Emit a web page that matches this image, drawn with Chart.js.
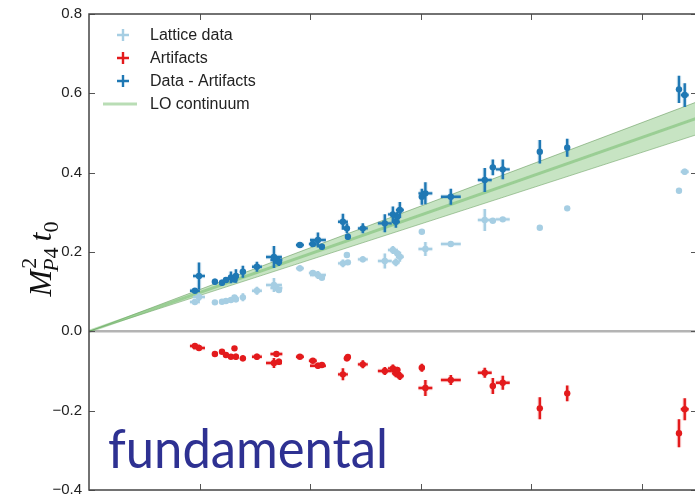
<!DOCTYPE html>
<html>
<head>
<meta charset="utf-8">
<script src="https://cdn.jsdelivr.net/npm/chart.js@4.4.0/dist/chart.umd.min.js"></script>
<style>
  html, body { margin: 0; padding: 0; background: #fff; overflow: hidden; }
  #wrap { width: 695px; height: 496px; overflow: hidden; position: relative; }
  canvas { display: block; }
</style>
</head>
<body>
<div id="wrap"><canvas id="chart" width="700" height="496"></canvas></div>
<script>
// ---- ensembles: x position and its uncertainty ----
const xVals = [0.0958, 0.0995, 0.1139, 0.1203, 0.1239, 0.1284, 0.1316, 0.1329, 0.1392, 0.1519,
               0.1673, 0.1695, 0.1718, 0.1908, 0.2025, 0.2071, 0.2107, 0.2297, 0.2333, 0.2342,
               0.2477, 0.2676, 0.2749, 0.2776, 0.2789, 0.2812, 0.3011, 0.3043, 0.3273, 0.3580,
               0.3653, 0.3743, 0.4078, 0.4326, 0.5337, 0.5389];
const xErr  = [0.0045, 0.0054, 0.0027, 0.0027, 0.0020, 0.0027, 0.0020, 0.0027, 0.0027, 0.0045,
               0.0072, 0.0054, 0.0027, 0.0036, 0.0036, 0.0072, 0.0027, 0.0045, 0.0027, 0.0020,
               0.0045, 0.0063, 0.0045, 0.0036, 0.0027, 0.0036, 0.0027, 0.0063, 0.0090, 0.0063,
               0.0027, 0.0063, 0.0020, 0.0020, 0.0020, 0.0036];

// ---- lattice data ----
const latticeY   = [0.0739, 0.0865, 0.0731, 0.0746, 0.0764, 0.0789, 0.0852, 0.0807, 0.0857, 0.1023,
                    0.1167, 0.1092, 0.1041, 0.1588, 0.1470, 0.1419, 0.1351, 0.1714, 0.1923, 0.1739,
                    0.1815, 0.1772, 0.2049, 0.1739, 0.1966, 0.1881, 0.2511, 0.2075, 0.2201, 0.2806,
                    0.2788, 0.2823, 0.2612, 0.3101, 0.3544, 0.4023];
const latticeErr = [0.0050, 0.0100, 0.0050, 0.0050, 0.0050, 0.0050, 0.0050, 0.0076, 0.0100, 0.0100,
                    0.0176, 0.0076, 0.0076, 0.0076, 0.0076, 0.0100, 0.0050, 0.0100, 0.0076, 0.0050,
                    0.0076, 0.0189, 0.0100, 0.0100, 0.0076, 0.0126, 0.0050, 0.0176, 0.0076, 0.0277,
                    0.0050, 0.0050, 0.0050, 0.0050, 0.0050, 0.0076];

// ---- lattice artifacts ----
const artifactY   = [-0.0371, -0.0421, -0.0572, -0.0514, -0.0597, -0.0640, -0.0429, -0.0640, -0.0681, -0.0640,
                     -0.0799, -0.0572, -0.0766, -0.0640, -0.0741, -0.0867, -0.0850, -0.1084, -0.0681, -0.0648,
                     -0.0832, -0.1001, -0.0933, -0.1059, -0.0976, -0.1127, -0.0918, -0.1429, -0.1228, -0.1044,
                     -0.1379, -0.1296, -0.1941, -0.1563, -0.2571, -0.1966];
const artifactErr = [0.0050, 0.0076, 0.0050, 0.0050, 0.0050, 0.0050, 0.0050, 0.0076, 0.0076, 0.0076,
                     0.0126, 0.0076, 0.0076, 0.0050, 0.0050, 0.0076, 0.0050, 0.0151, 0.0076, 0.0050,
                     0.0100, 0.0100, 0.0100, 0.0100, 0.0076, 0.0100, 0.0100, 0.0202, 0.0126, 0.0126,
                     0.0200, 0.0176, 0.0277, 0.0200, 0.0353, 0.0277];

// ---- data with artifacts removed ----
const correctedY   = [0.1023, 0.1394, 0.1250, 0.1225, 0.1293, 0.1361, 0.1306, 0.1394, 0.1502, 0.1628,
                      0.1873, 0.1797, 0.1747, 0.2175, 0.2201, 0.2301, 0.2133, 0.2763, 0.2596, 0.2385,
                      0.2596, 0.2722, 0.2949, 0.2763, 0.2889, 0.3058, 0.3393, 0.3479, 0.3393, 0.3814,
                      0.4134, 0.4084, 0.4527, 0.4628, 0.6100, 0.5957];
const correctedErr = [0.0050, 0.0340, 0.0076, 0.0076, 0.0076, 0.0150, 0.0060, 0.0170, 0.0150, 0.0126,
                      0.0277, 0.0100, 0.0100, 0.0076, 0.0076, 0.0189, 0.0076, 0.0200, 0.0126, 0.0076,
                      0.0126, 0.0227, 0.0200, 0.0150, 0.0126, 0.0200, 0.0200, 0.0277, 0.0200, 0.0302,
                      0.0200, 0.0250, 0.0295, 0.0227, 0.0345, 0.0300];

// ---- leading-order continuum curve: y = slope * x ----
const loSlope = 0.977;
const loSlopeErr = 0.075;

// ---- axes ----
const xRange = [0, 0.55];
const yRange = [-0.4, 0.8];
const xTicks = [0.1, 0.2, 0.3, 0.4, 0.5];
const yTicks = [-0.4, -0.2, 0.0, 0.2, 0.4, 0.6, 0.8];

const seriesLabels = ['Lattice data', 'Artifacts', 'Data - Artifacts', 'LO continuum'];
const watermark = 'fundamental';

const C_LAT = '#a6cee3', C_ART = '#e31a1c', C_COR = '#1f78b4';
const C_LO = 'rgba(100,180,90,0.45)';
const C_BAND = 'rgba(100,180,90,0.36)';
const C_BAND_EDGE = 'rgba(70,130,60,0.45)';

function points(ys, yerrs) {
  return xVals.map((x, i) => ({ x: x, y: ys[i], xe: xErr[i], ye: yerrs[i] }));
}
function loLine(slope) {
  return xRange.map(x => ({ x: x, y: slope * x }));
}

// error bars for every scatter series, drawn right under its markers
const errorBars = {
  id: 'errorBars',
  beforeDatasetDraw(chart, args) {
    const ds = chart.data.datasets[args.index];
    if (!ds.errorBars) return;
    const xs = chart.scales.x, ys = chart.scales.y, a = chart.chartArea;
    const ctx = chart.ctx;
    ctx.save();
    ctx.beginPath();
    ctx.rect(a.left, a.top, a.right - a.left, a.bottom - a.top);
    ctx.clip();
    ctx.lineCap = 'butt';
    const passes = [{ w: 4.5, alpha: 0.18 }, { w: 2.4, alpha: 1 }];
    passes.forEach(p => {
      ctx.globalAlpha = p.alpha;
      ctx.strokeStyle = ds.borderColor;
      ctx.lineWidth = p.w;
      ds.data.forEach(pt => {
        const px = xs.getPixelForValue(pt.x), py = ys.getPixelForValue(pt.y);
        const x0 = xs.getPixelForValue(pt.x - pt.xe), x1 = xs.getPixelForValue(pt.x + pt.xe);
        const y0 = ys.getPixelForValue(pt.y - pt.ye), y1 = ys.getPixelForValue(pt.y + pt.ye);
        ctx.beginPath();
        ctx.moveTo(x0, py); ctx.lineTo(x1, py);
        ctx.moveTo(px, y0); ctx.lineTo(px, y1);
        ctx.stroke();
      });
    });
    ctx.restore();
  }
};

// horizontal reference line at zero
const zeroLine = {
  id: 'zeroLine',
  beforeDatasetsDraw(chart) {
    const a = chart.chartArea, ctx = chart.ctx;
    const y = chart.scales.y.getPixelForValue(0);
    ctx.save();
    ctx.strokeStyle = '#b4b4b4';
    ctx.lineWidth = 2.5;
    ctx.beginPath();
    ctx.moveTo(a.left, y); ctx.lineTo(a.right, y);
    ctx.stroke();
    ctx.restore();
  }
};

// box frame with inward ticks on all four sides
const frame = {
  id: 'frame',
  afterDraw(chart) {
    const a = chart.chartArea, ctx = chart.ctx;
    const xs = chart.scales.x, ys = chart.scales.y;
    ctx.save();
    ctx.strokeStyle = '#555';
    ctx.lineWidth = 1;
    ctx.beginPath();
    xTicks.forEach(v => {
      const x = Math.round(xs.getPixelForValue(v)) + 0.5;
      ctx.moveTo(x, a.bottom); ctx.lineTo(x, a.bottom - 6);
      ctx.moveTo(x, a.top); ctx.lineTo(x, a.top + 6);
    });
    yTicks.forEach(v => {
      const y = Math.round(ys.getPixelForValue(v)) + 0.5;
      ctx.moveTo(a.left, y); ctx.lineTo(a.left + 6, y);
      ctx.moveTo(a.right, y); ctx.lineTo(a.right - 6, y);
    });
    ctx.stroke();
    ctx.strokeStyle = '#444';
    ctx.lineWidth = 1.5;
    ctx.strokeRect(a.left, a.top, a.right - a.left, a.bottom - a.top);
    ctx.restore();
  }
};

// legend in the upper left corner
const legendBox = {
  id: 'legendBox',
  afterDraw(chart) {
    const ctx = chart.ctx;
    const items = chart.data.datasets
      .filter(d => d.legendRank !== undefined)
      .sort((p, q) => p.legendRank - q.legendRank);
    ctx.save();
    items.forEach((d, i) => {
      const y = 35 + i * 23;
      ctx.strokeStyle = d.borderColor;
      ctx.beginPath();
      if (d.errorBars) {
        ctx.lineWidth = 2.4;
        ctx.moveTo(117, y); ctx.lineTo(129, y);
        ctx.moveTo(123, y - 6); ctx.lineTo(123, y + 6);
      } else {
        ctx.lineWidth = 3;
        ctx.moveTo(103, y); ctx.lineTo(137, y);
      }
      ctx.stroke();
      ctx.fillStyle = '#222';
      ctx.font = '16px "Liberation Sans", Arial, sans-serif';
      ctx.textBaseline = 'middle';
      ctx.textAlign = 'left';
      ctx.fillText(d.label, 150, y + 1);
    });
    ctx.restore();
  }
};

// rotated y-axis title with sub- and superscripts
const yTitle = {
  id: 'yTitle',
  afterDraw(chart) {
    const ctx = chart.ctx;
    const big = 'italic 32px "Liberation Serif", serif';
    const smallUp = '22px "Liberation Serif", serif';
    const smallIt = 'italic 22px "Liberation Serif", serif';
    ctx.save();
    ctx.font = big; const wM = ctx.measureText('M').width; const wt = ctx.measureText('t').width;
    ctx.font = smallIt; const wP = ctx.measureText('P').width;
    ctx.font = smallUp; const w4 = ctx.measureText('4').width; const w0 = ctx.measureText('0').width;
    const gap = 6;
    const total = wM - 2 + wP + w4 + gap + wt + w0;
    ctx.translate(41, 259);
    ctx.rotate(-Math.PI / 2);
    ctx.fillStyle = '#111';
    ctx.textBaseline = 'alphabetic';
    ctx.textAlign = 'left';
    const base = 10;
    let u = -total / 2;
    ctx.font = big; ctx.fillText('M', u, base);
    ctx.font = smallUp; ctx.fillText('2', u + wM + 1, base - 15);
    ctx.font = smallIt; ctx.fillText('P', u + wM - 2, base + 7);
    ctx.font = smallUp; ctx.fillText('4', u + wM - 2 + wP, base + 7);
    u += wM - 2 + wP + w4 + gap;
    ctx.font = big; ctx.fillText('t', u, base);
    ctx.font = smallUp; ctx.fillText('0', u + wt, base + 7);
    ctx.restore();
  }
};

// large label in the lower left of the plot
const stamp = {
  id: 'stamp',
  afterDraw(chart) {
    const ctx = chart.ctx;
    ctx.save();
    ctx.font = '54px Lato, "Open Sans", sans-serif';
    const w = ctx.measureText(watermark).width;
    const target = 280;
    ctx.translate(108, 468);
    ctx.scale(target / w, 1);
    ctx.fillStyle = '#2e3192';
    ctx.textBaseline = 'alphabetic';
    ctx.fillText(watermark, 0, 0);
    ctx.restore();
  }
};

const chart = new Chart(document.getElementById('chart'), {
  type: 'scatter',
  data: {
    datasets: [
      { label: seriesLabels[2], data: points(correctedY, correctedErr), errorBars: true, legendRank: 2,
        backgroundColor: C_COR, borderColor: C_COR, pointRadius: 3.2, borderWidth: 0, order: 1 },
      { label: seriesLabels[1], data: points(artifactY, artifactErr), errorBars: true, legendRank: 1,
        backgroundColor: C_ART, borderColor: C_ART, pointRadius: 3.2, borderWidth: 0, order: 2 },
      { label: seriesLabels[0], data: points(latticeY, latticeErr), errorBars: true, legendRank: 0,
        backgroundColor: C_LAT, borderColor: C_LAT, pointRadius: 3.2, borderWidth: 0, order: 3 },
      { label: seriesLabels[3], type: 'line', data: loLine(loSlope), legendRank: 3,
        borderColor: C_LO, borderWidth: 3, pointRadius: 0, fill: false, order: 4 },
      { label: 'LO upper', type: 'line', data: loLine(loSlope + loSlopeErr),
        borderColor: C_BAND_EDGE, borderWidth: 1, pointRadius: 0, fill: '+1', backgroundColor: C_BAND, order: 5 },
      { label: 'LO lower', type: 'line', data: loLine(loSlope - loSlopeErr),
        borderColor: C_BAND_EDGE, borderWidth: 1, pointRadius: 0, fill: false, order: 6 }
    ]
  },
  options: {
    responsive: false,
    animation: false,
    events: [],
    layout: { autoPadding: false, padding: { left: 0, right: 3, top: 14, bottom: 6 } },
    plugins: { legend: { display: false }, tooltip: { enabled: false } },
    scales: {
      x: {
        type: 'linear', min: xRange[0], max: xRange[1],
        display: false
      },
      y: {
        type: 'linear', min: yRange[0], max: yRange[1],
        grid: { display: false, drawTicks: false },
        border: { display: false },
        afterBuildTicks(scale) { scale.ticks = yTicks.map(v => ({ value: v })); },
        afterFit(scale) {
          scale.width = 89;
          // labels may run past the plot edges; keep the plot box fixed
          scale.paddingTop = 0;
          scale.paddingBottom = 0;
        },
        ticks: {
          padding: 7,
          color: '#222',
          font: { family: '"Liberation Sans", Arial, sans-serif', size: 15 },
          callback(v) {
            const r = Math.round(v * 10) / 10;
            return (r < 0 ? '\u2212' : '') + Math.abs(r).toFixed(1);
          }
        }
      }
    }
  },
  plugins: [zeroLine, errorBars, frame, legendBox, yTitle, stamp]
});
</script>
</body>
</html>
